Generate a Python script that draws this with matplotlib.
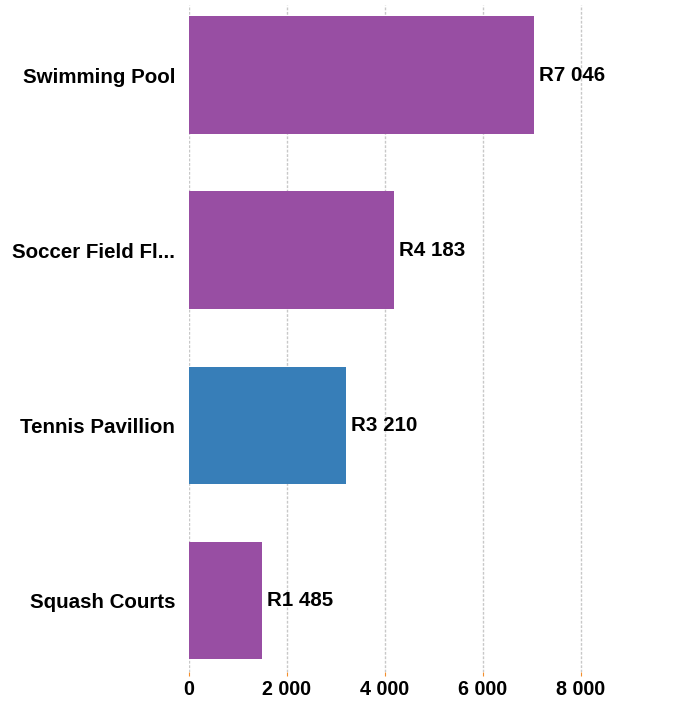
import matplotlib.pyplot as plt
from matplotlib.ticker import FuncFormatter

plt.rcParams['font.family'] = ['Liberation Sans', 'DejaVu Sans']

# Data
categories = ["Swimming Pool", "Soccer Field Fl...", "Tennis Pavillion", "Squash Courts"]
values = [7046, 4183, 3210, 1485]
colors = ["#984EA3", "#984EA3", "#377EB8", "#984EA3"]
xticks = [0, 2000, 4000, 6000, 8000]

def fmt(v):
    return f"{int(v):,}".replace(",", " ")

fig = plt.figure(figsize=(6.99, 7.03), dpi=100)
ax = fig.add_axes([189 / 699, 1 - 672 / 703, 490 / 699, 667 / 703])

ypos = list(range(len(categories)))
ax.barh(ypos, values, height=0.67, color=colors, zorder=2)

for y, v in zip(ypos, values):
    ax.annotate("R" + fmt(v), (v, y), xytext=(3.5, 0), textcoords="offset points",
                va="center", ha="left", fontsize=14.8, fontweight="bold", color="black")

ax.set_xlim(0, 10000)
ax.set_ylim(3.41, -0.4)
ax.set_yticks(ypos)
ax.set_yticklabels(categories, fontsize=14.8, fontweight="bold")
ax.set_xticks(xticks)
ax.xaxis.set_major_formatter(FuncFormatter(lambda v, p: fmt(v)))
for lbl in ax.get_xticklabels():
    lbl.set_fontweight("bold")
    lbl.set_fontsize(14.2)

ax.tick_params(axis="y", length=0, pad=10)
ax.tick_params(axis="x", length=3, color="#F28E2B", pad=3)
ax.grid(axis="x", color="#c8c8c8", linestyle=(0, (2, 1.2)), linewidth=1, zorder=0)
for s in ax.spines.values():
    s.set_visible(False)

fig.savefig("out.png", dpi=100)
